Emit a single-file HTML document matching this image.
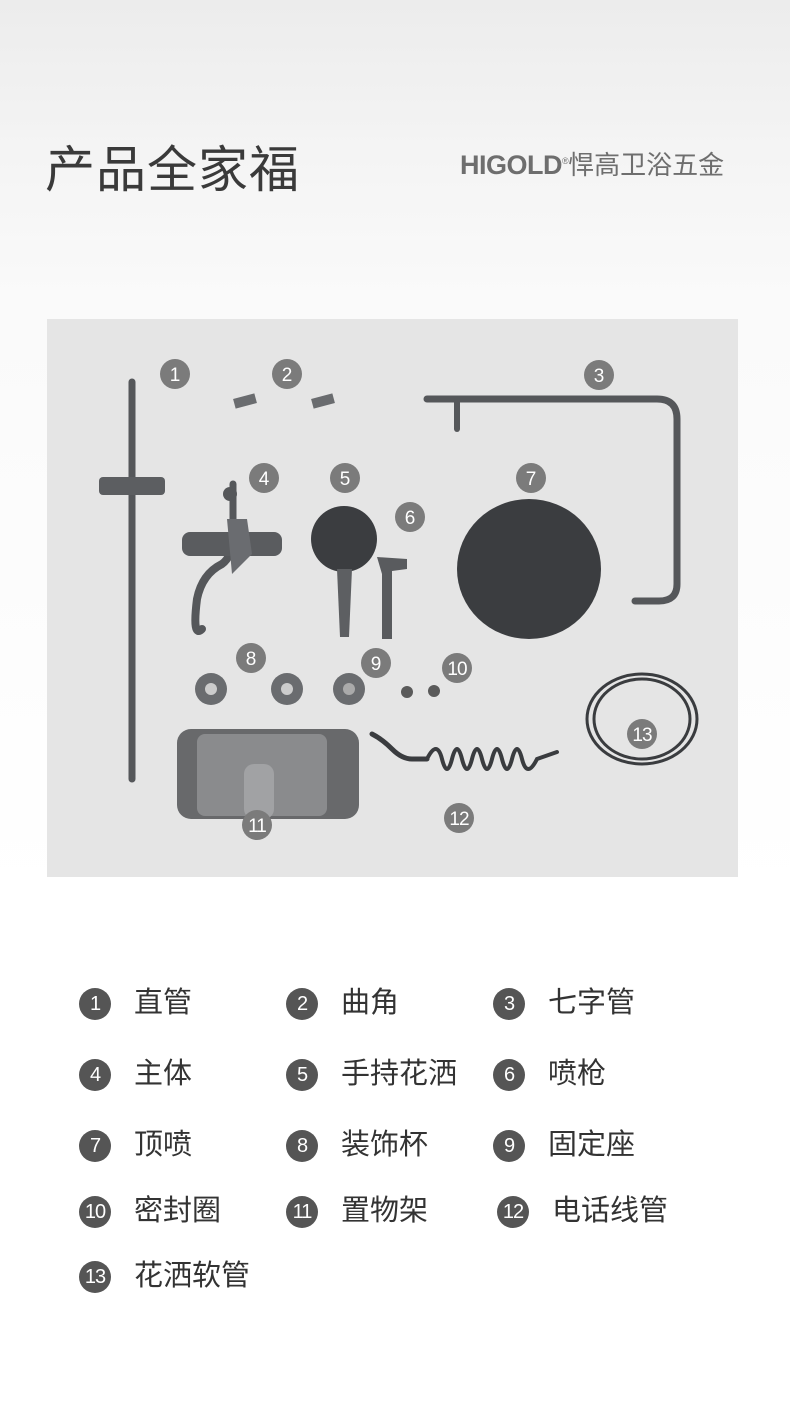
<!DOCTYPE html>
<html><head><meta charset="utf-8"><style>
body{margin:0;width:790px;height:1420px;position:relative;overflow:hidden;background:linear-gradient(#ececec 0,#f4f4f4 150px,#fafafa 300px,#fff 900px);font-family:"Liberation Sans","Noto Sans CJK SC",sans-serif}
.t{position:absolute;left:45px;top:130px;font-size:50px;color:#3a3a3a;letter-spacing:1px}
.logo{position:absolute;left:460px;top:145px;font-size:27px;color:#6e6e6e;font-weight:bold;letter-spacing:-0.5px;white-space:nowrap}
.logo span{font-weight:normal;font-size:26px;letter-spacing:0}
.photo{position:absolute;left:47px;top:319px}
.leg{position:absolute;font-size:29px;color:#333;line-height:30px}
.leg b{position:absolute;left:-55px;top:0px;width:32px;height:32px;border-radius:50%;background:#555;color:#fff;font-weight:normal;font-size:20px;text-align:center;line-height:32px;letter-spacing:-1px}
</style></head><body>
<div class="t">产品全家福</div>
<div class="logo">HIGOLD<sup style="font-size:9px;font-weight:normal">®</sup><span>悍高卫浴五金</span></div>
<svg class="photo" width="691" height="558" viewBox="0 0 691 558">
<rect width="691" height="558" fill="#e5e5e5"/>
<g stroke="#55575a" fill="none" stroke-linecap="round">
<line x1="85" y1="63" x2="85" y2="460" stroke-width="7"/>
<rect x="52" y="158" width="66" height="18" rx="4" fill="#5c5e61" stroke="none"/>
<path d="M380 80 H610 Q630 80 630 100 V265 Q630 282 612 282 H588" stroke-width="7"/>
<line x1="410" y1="80" x2="410" y2="110" stroke-width="6"/>
<path d="M155 310 Q145 320 150 280 Q155 255 175 245 Q185 238 188 215" stroke-width="8"/>
<line x1="186" y1="215" x2="186" y2="165" stroke-width="7"/>
<path d="M325 415 Q335 420 345 430 Q355 440 365 440 H380" stroke="#3a3c3f" stroke-width="5"/>
<path d="M380 440 Q390 420 395 440 Q400 460 405 440 Q410 420 415 440 Q420 460 425 440 Q430 420 435 440 Q440 460 445 440 Q450 420 455 440 Q460 460 465 440 Q470 420 475 440 Q480 460 490 440 L510 433" stroke="#3a3c3f" stroke-width="4"/>
<ellipse cx="595" cy="400" rx="55" ry="45" stroke="#3a3c3f" stroke-width="3"/>
<ellipse cx="595" cy="400" rx="48" ry="40" stroke="#3a3c3f" stroke-width="3"/>
</g>
<rect x="187" y="77" width="22" height="10" fill="#6a6c6f" transform="rotate(-15 198 82)"/>
<rect x="265" y="77" width="22" height="10" fill="#6a6c6f" transform="rotate(-15 276 82)"/>
<rect x="135" y="213" width="100" height="24" rx="8" fill="#5a5c5f"/>
<path d="M180 200 L200 200 L205 235 L185 255 Z" fill="#6a6c70"/>
<circle cx="183" cy="175" r="7" fill="#55575a"/>
<circle cx="297" cy="220" r="33" fill="#3b3d40"/>
<path d="M290 250 L305 250 L302 318 L293 318 Z" fill="#5d5f62"/>
<path d="M330 238 L360 240 L360 250 L345 252 L345 320 L335 320 L335 255 Z" fill="#595b5e"/>
<ellipse cx="482" cy="250" rx="72" ry="70" fill="#3b3d40"/>
<circle cx="164" cy="370" r="16" fill="#6a6c6f"/><circle cx="164" cy="370" r="6" fill="#ccc"/>
<circle cx="240" cy="370" r="16" fill="#6a6c6f"/><circle cx="240" cy="370" r="6" fill="#ccc"/>
<circle cx="302" cy="370" r="16" fill="#6a6c6f"/><circle cx="302" cy="370" r="6" fill="#aaa"/>
<circle cx="360" cy="373" r="6" fill="#5a5a5a"/><circle cx="387" cy="372" r="6" fill="#5a5a5a"/>
<rect x="130" y="410" width="182" height="90" rx="14" fill="#68696b"/>
<rect x="150" y="415" width="130" height="82" rx="8" fill="#8a8b8d"/>
<rect x="197" y="445" width="30" height="55" rx="10" fill="#a1a2a4"/>
<g font-family="Liberation Sans" font-size="19" fill="#fff" text-anchor="middle">
<g fill="#7b7b7b"><circle cx="128" cy="55" r="15"/><circle cx="240" cy="55" r="15"/><circle cx="552" cy="56" r="15"/><circle cx="217" cy="159" r="15"/><circle cx="298" cy="159" r="15"/><circle cx="363" cy="198" r="15"/><circle cx="484" cy="159" r="15"/><circle cx="204" cy="339" r="15"/><circle cx="329" cy="344" r="15"/><circle cx="410" cy="349" r="15"/><circle cx="595" cy="415" r="15"/><circle cx="210" cy="506" r="15"/><circle cx="412" cy="499" r="15"/></g>
<text x="128" y="62">1</text><text x="240" y="62">2</text><text x="552" y="63">3</text><text x="217" y="166">4</text><text x="298" y="166">5</text><text x="363" y="205">6</text><text x="484" y="166">7</text><text x="204" y="346">8</text><text x="329" y="351">9</text><text x="410" y="356" letter-spacing="-1">10</text><text x="595" y="422" letter-spacing="-1">13</text><text x="210" y="513" letter-spacing="-1">11</text><text x="412" y="506" letter-spacing="-1">12</text>
</g>
</svg>
<div class="leg" style="left:134px;top:988px"><b>1</b>直管</div>
<div class="leg" style="left:341px;top:988px"><b>2</b>曲角</div>
<div class="leg" style="left:548px;top:988px"><b>3</b>七字管</div>
<div class="leg" style="left:134px;top:1059px"><b>4</b>主体</div>
<div class="leg" style="left:341px;top:1059px"><b>5</b>手持花洒</div>
<div class="leg" style="left:548px;top:1059px"><b>6</b>喷枪</div>
<div class="leg" style="left:134px;top:1130px"><b>7</b>顶喷</div>
<div class="leg" style="left:341px;top:1130px"><b>8</b>装饰杯</div>
<div class="leg" style="left:548px;top:1130px"><b>9</b>固定座</div>
<div class="leg" style="left:134px;top:1196px"><b>10</b>密封圈</div>
<div class="leg" style="left:341px;top:1196px"><b>11</b>置物架</div>
<div class="leg" style="left:552px;top:1196px"><b>12</b>电话线管</div>
<div class="leg" style="left:134px;top:1261px"><b>13</b>花洒软管</div>
</body></html>
